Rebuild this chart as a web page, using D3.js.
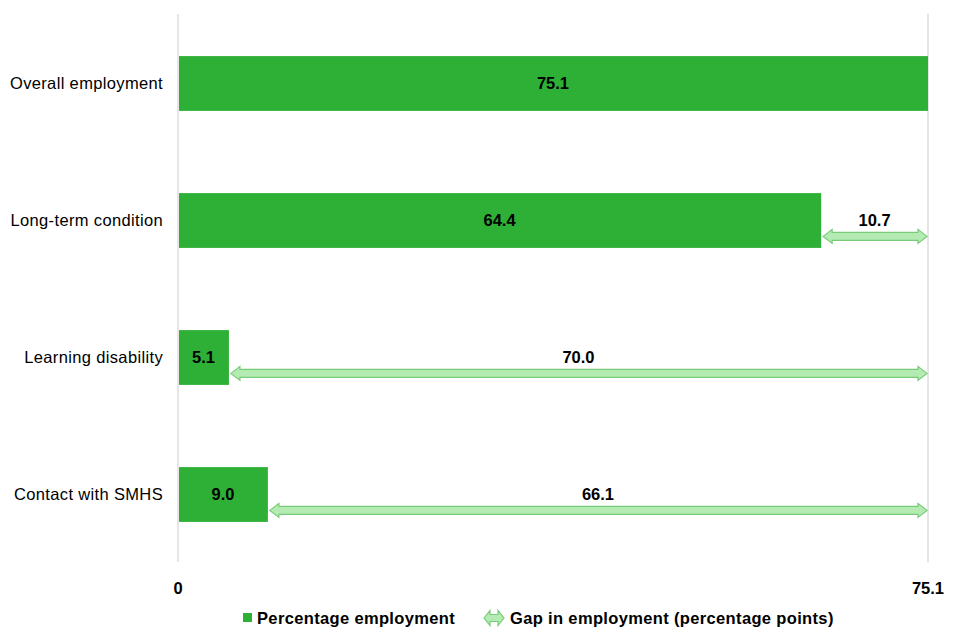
<!DOCTYPE html>
<html><head><meta charset="utf-8">
<script src="https://cdn.jsdelivr.net/npm/d3@7"></script>
<style>body{margin:0;background:#fff}svg{display:block;font-family:"Liberation Sans",Arial,sans-serif}</style>
</head><body><svg id="c" width="960" height="640"></svg>
<script>
const categories = ["Overall employment","Long-term condition","Learning disability","Contact with SMHS"];
const employment = [75.1, 64.4, 5.1, 9.0];
const gap = [null, 10.7, 70.0, 66.1];
const xTicks = [0, 75.1];
const legendLabels = ["Percentage employment","Gap in employment (percentage points)"];

const svg = d3.select("#c");
const green = "#2eb036", arrowFill = "#b3ebb3", arrowStroke = "#78cc78";
const FS = 16.5;
const x = d3.scaleLinear().domain([0, 75.1]).range([178, 928]);
const y = d3.scaleBand().domain(categories).range([14, 562]).paddingInner(0.6).paddingOuter(0.3);

// grid lines
svg.selectAll("line.grid").data(xTicks).join("line")
  .attr("x1", d=>x(d)).attr("x2", d=>x(d)).attr("y1", 14).attr("y2", 562)
  .attr("stroke", "#d9d9d9").attr("stroke-width", 1.3);

// bars
svg.selectAll("rect.bar").data(categories).join("rect")
  .attr("x", x(0)+1).attr("y", d=>y(d)+1)
  .attr("width", (d,i)=>x(employment[i])-x(0)-1).attr("height", y.bandwidth())
  .attr("fill", green);

// bar labels
svg.selectAll("text.val").data(categories).join("text")
  .attr("x", (d,i)=>(x(0)+x(employment[i]))/2).attr("y", d=>y(d)+y.bandwidth()/2+1)
  .attr("text-anchor","middle").attr("dy","0.35em")
  .attr("font-weight","bold").attr("font-size",FS).attr("fill","#000")
  .text((d,i)=>employment[i].toFixed(1));

// arrows
function arrowPath(x0, x1, yc, shaft, head, hl){
  const s=shaft/2, h=head/2;
  return `M${x0},${yc} L${x0+hl},${yc-h} L${x0+hl},${yc-s} L${x1-hl},${yc-s} L${x1-hl},${yc-h} L${x1},${yc} L${x1-hl},${yc+h} L${x1-hl},${yc+s} L${x0+hl},${yc+s} L${x0+hl},${yc+h} Z`;
}
const gapIdx = categories.map((d,i)=>i).filter(i=>gap[i]!=null);
svg.selectAll("path.arrow").data(gapIdx).join("path")
  .attr("d", i=>arrowPath(x(employment[i])+2, x(75.1)-1, y(categories[i])+y.bandwidth()*0.79+1, 8, 14, 9))
  .attr("fill", arrowFill).attr("stroke", arrowStroke).attr("stroke-width",1.2);
svg.selectAll("text.gap").data(gapIdx).join("text")
  .attr("x", i=>(x(employment[i])+x(75.1))/2).attr("y", i=>y(categories[i])+y.bandwidth()/2+1)
  .attr("text-anchor","middle").attr("dy","0.35em")
  .attr("font-weight","bold").attr("font-size",FS).attr("fill","#000")
  .text(i=>gap[i].toFixed(1));

// category labels
svg.selectAll("text.cat").data(categories).join("text")
  .attr("x", 163).attr("y", d=>y(d)+y.bandwidth()/2+1)
  .attr("text-anchor","end").attr("dy","0.35em")
  .attr("font-size",FS).attr("letter-spacing",0.35).attr("fill","#000").text(d=>d);

// x tick labels
svg.selectAll("text.tick").data(xTicks).join("text")
  .attr("x", d=>x(d)).attr("y", 588).attr("dy","0.35em")
  .attr("text-anchor","middle").attr("font-weight","bold").attr("font-size",FS)
  .text(d=>d===0?"0":d.toFixed(1));

// legend
const lg = svg.append("g");
lg.append("rect").attr("x",243).attr("y",613).attr("width",9).attr("height",9).attr("fill",green);
lg.append("text").attr("x",257).attr("y",618).attr("dy","0.35em").attr("font-weight","bold").attr("font-size",FS).attr("letter-spacing",0.35).text(legendLabels[0]);
lg.append("path").attr("d", arrowPath(484, 504, 618, 7, 15, 6))
  .attr("fill", arrowFill).attr("stroke", arrowStroke).attr("stroke-width",1.2);
lg.append("text").attr("x",510).attr("y",618).attr("dy","0.35em").attr("font-weight","bold").attr("font-size",FS).attr("letter-spacing",0.35).text(legendLabels[1]);
</script></body></html>
